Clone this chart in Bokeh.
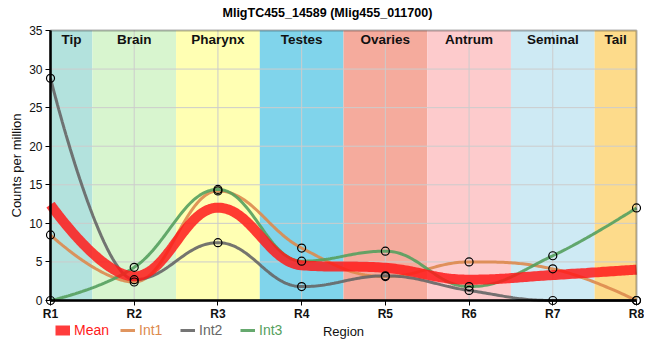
import numpy as np
from bokeh.plotting import figure
from bokeh.models import (FixedTicker, Legend, LegendItem, ColumnDataSource, Range1d,
                          Title, BoxAnnotation)
from bokeh.core.properties import value
from bokeh.embed import file_html
from bokeh.resources import INLINE

# ---- data ----
regions = ["R1", "R2", "R3", "R4", "R5", "R6", "R7", "R8"]
region_names = ["Tip", "Brain", "Pharynx", "Testes", "Ovaries", "Antrum", "Seminal", "Tail"]
band_colors = ["#b3e2dd", "#d8f5cf", "#ffffb3", "#80d4eb", "#f5ab9d", "#fdcbcc", "#ceeaf4", "#fddb8b"]
int1 = [8.5, 2.4, 14.2, 6.8, 3.1, 5.0, 4.1, 0.0]
int2 = [28.8, 2.7, 7.5, 1.8, 3.2, 1.3, 0.0, 0.0]
int3 = [0.0, 4.3, 14.4, 5.1, 6.4, 1.8, 5.8, 12.0]
mean = [(a + b + c) / 3 for a, b, c in zip(int1, int2, int3)]
y_ticks = [0, 5, 10, 15, 20, 25, 30, 35]

series_names = ["Mean", "Int1", "Int2", "Int3"]
series_colors = ["#ff1a1a", "#dd8a4e", "#666666", "#55a05e"]

xs = np.arange(1, len(regions) + 1, dtype=float)


def spline(x, y, smoothing=1.5, n=40):
    """Smoothed curve through the points (bezier control points, no false extremes)."""
    m = len(x)
    lc = [None] * m
    rc = [None] * m
    den = smoothing + 1
    for i in range(1, m - 1):
        lx, ly, nx, ny, px, py = x[i - 1], y[i - 1], x[i + 1], y[i + 1], x[i], y[i]
        lcx = (smoothing * px + lx) / den
        lcy = (smoothing * py + ly) / den
        rcx = (smoothing * px + nx) / den
        rcy = (smoothing * py + ny) / den
        corr = 0.0
        if rcx != lcx:
            corr = ((rcy - lcy) * (rcx - px)) / (rcx - lcx) + py - rcy
        lcy += corr
        rcy += corr
        if lcy > ly and lcy > py:
            lcy = max(ly, py); rcy = 2 * py - lcy
        elif lcy < ly and lcy < py:
            lcy = min(ly, py); rcy = 2 * py - lcy
        if rcy > ny and rcy > py:
            rcy = max(ny, py); lcy = 2 * py - rcy
        elif rcy < ny and rcy < py:
            rcy = min(ny, py); lcy = 2 * py - rcy
        lc[i] = (lcx, lcy)
        rc[i] = (rcx, rcy)
    ox, oy = [], []
    for i in range(m - 1):
        p0 = (x[i], y[i])
        p3 = (x[i + 1], y[i + 1])
        p1 = rc[i] if rc[i] is not None else p0
        p2 = lc[i + 1] if lc[i + 1] is not None else p3
        t = np.linspace(0, 1, n, endpoint=(i == m - 2))
        a, b, c, d = (1 - t) ** 3, 3 * (1 - t) ** 2 * t, 3 * (1 - t) * t ** 2, t ** 3
        ox.extend(a * p0[0] + b * p1[0] + c * p2[0] + d * p3[0])
        oy.extend(a * p0[1] + b * p1[1] + c * p2[1] + d * p3[1])
    return np.array(ox), np.array(oy)


FONT = "Liberation Sans"
W, H = 644, 344
FRAME_TOP = 22           # frame top (title above it)
PLOT_TOP = 30            # where 35 sits
PX_LEFT, PX_RIGHT = 50, 636   # where R1 and R8 sit
PLOT_H = 270             # pixels for 0..35
YMAX = 35
XMIN, XMAX = 1, len(regions)
ppu_x = (PX_RIGHT - PX_LEFT) / (XMAX - XMIN)
ppu_y = PLOT_H / YMAX
x_lo = XMIN - PX_LEFT / ppu_x
x_hi = XMAX + (W - PX_RIGHT) / ppu_x
y_lo = -(H - PLOT_TOP - PLOT_H) / ppu_y
y_hi = YMAX + (PLOT_TOP - FRAME_TOP) / ppu_y

p = figure(width=W, height=H, output_backend="svg", toolbar_location=None,
           x_range=Range1d(x_lo, x_hi), y_range=Range1d(y_lo, y_hi),
           min_border_left=0, min_border_right=0, min_border_top=FRAME_TOP,
           min_border_bottom=0)
p.title = None
title = Title(text="MligTC455_14589 (Mlig455_011700)", align="left",
              text_font=FONT, text_font_size="12.5px", text_font_style="bold",
              text_color="#000000", standoff=6, offset=222)
p.add_layout(title, "above")

# bands
left = [max(k - 0.5, XMIN) for k in xs]
right = [min(k + 0.5, XMAX) for k in xs]
band_src = ColumnDataSource(dict(left=left, right=right, color=band_colors,
                                 name=region_names,
                                 cx=[(a + b) / 2 for a, b in zip(left, right)],
                                 top=[YMAX] * len(regions)))
p.quad(left="left", right="right", bottom=0, top=YMAX, fill_color="color",
       line_color=None, source=band_src, level="underlay")

# grid lines, limited to the plotting box
p.grid.visible = False
p.segment(x0=list(xs[1:-1]), y0=0, x1=list(xs[1:-1]), y1=YMAX,
          line_color="#cccccc", line_width=1, level="underlay")
p.segment(x0=XMIN, y0=y_ticks[1:-1], x1=XMAX, y1=y_ticks[1:-1],
          line_color="#cccccc", line_width=1, level="underlay")

p.text(x="cx", y="top", text="name", source=band_src, text_align="center",
       text_baseline="top", y_offset=1, text_font=value(FONT),
       text_font_size="13.5px", text_font_style="bold", text_color="#111111")

# series lines
renderers = []
for name, vals, col in zip(series_names[1:], [int1, int2, int3], series_colors[1:]):
    cx, cy = spline(list(xs), vals)
    r = p.line(cx, cy, line_color=col, line_width=3, line_alpha=0.9)
    renderers.append(r)
mx, my = spline(list(xs), mean)
r_mean = p.line(mx, my, line_color=series_colors[0], line_width=10, line_alpha=0.85)
renderers.insert(0, r_mean)

for vals in (int1, int2, int3):
    p.scatter(xs, vals, size=8, fill_color=None, line_color="black", line_width=1.2)

# frame box (top / right edges)
p.add_layout(BoxAnnotation(left=XMIN, right=XMAX, bottom=0, top=YMAX, fill_alpha=0,
                           line_color="black", line_width=2, level="overlay"))
p.outline_line_color = None

# axes
p.xaxis.fixed_location = 0
p.yaxis.fixed_location = XMIN
p.xaxis.bounds = (XMIN, XMAX)
p.yaxis.bounds = (0, YMAX)
p.xaxis.ticker = FixedTicker(ticks=list(xs))
p.xaxis.major_label_overrides = {int(k): r for k, r in zip(xs, regions)}
p.yaxis.ticker = FixedTicker(ticks=y_ticks)
p.xaxis.axis_label = "Region"
p.yaxis.axis_label = "Counts per million"
for ax in (p.xaxis[0], p.yaxis[0]):
    ax.axis_line_color = "black"
    ax.axis_line_width = 2.5
    ax.major_tick_line_color = "black"
    ax.major_tick_out = 5
    ax.major_tick_in = 0
    ax.minor_tick_line_color = None
    ax.major_label_text_font = FONT
    ax.major_label_text_font_size = "12px"
    ax.major_label_text_color = "#111111"
    ax.axis_label_text_font = FONT
    ax.axis_label_text_font_size = "13px"
    ax.axis_label_text_font_style = "normal"
    ax.axis_label_text_color = "#111111"
p.xaxis.major_label_text_font_style = "bold"
p.xaxis.major_label_standoff = 1
p.xaxis.axis_label_standoff = 0
p.yaxis.major_label_standoff = 3
p.yaxis.axis_label_standoff = 2

p.background_fill_color = "white"
p.border_fill_color = "white"

# legends, one per series so each label keeps its own colour
legend_x = [55, 120, 180, 240]
legend_bottom = H - 338   # bottom of the legend row, measured up from frame bottom
for name, r, col, lx in zip(series_names, renderers, series_colors, legend_x):
    lg = Legend(items=[LegendItem(label=name, renderers=[r])], location=(lx, legend_bottom),
                orientation="horizontal", glyph_width=15, glyph_height=16,
                label_standoff=4, padding=0, margin=0, spacing=0,
                border_line_color=None, background_fill_alpha=0,
                label_text_color=col, label_text_font=FONT, label_text_font_size="14px",
                label_height=16)
    p.add_layout(lg, "center")

open("out.html", "w").write(file_html(p, INLINE))
